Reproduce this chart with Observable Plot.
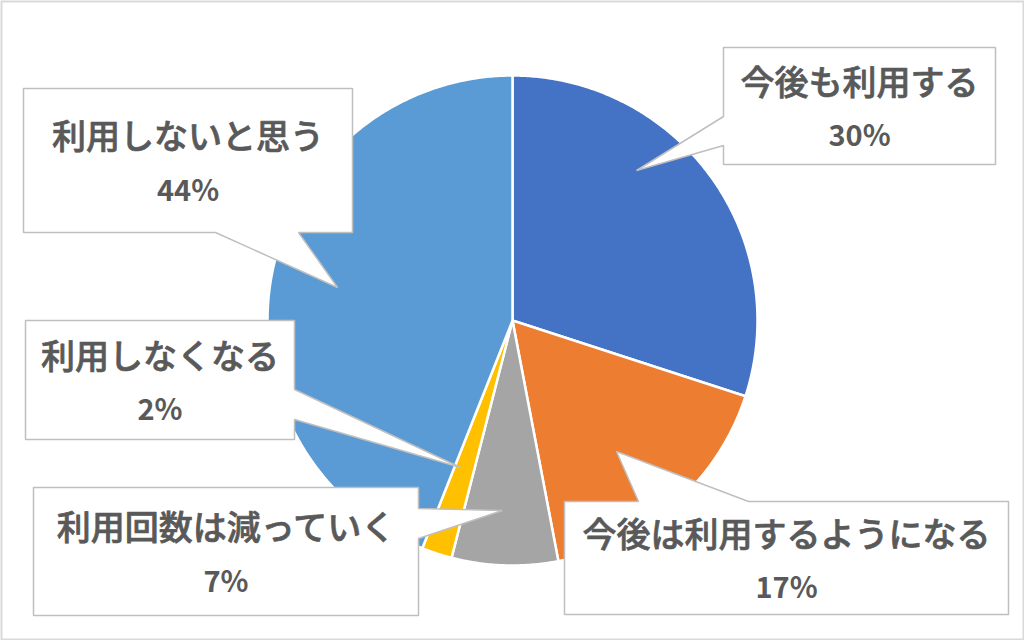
<!DOCTYPE html>
<html>
<head>
<meta charset="utf-8">
<script src="https://cdn.jsdelivr.net/npm/d3@7"></script>
<script src="https://cdn.jsdelivr.net/npm/@observablehq/plot@0.6"></script>
<style>
  html, body { margin: 0; padding: 0; background: #fff; }
  #chart svg { display: block; }
</style>
</head>
<body>
<div id="chart"></div>
<script>
// ---- data ----
const categories = ["今後も利用する", "今後は利用するようになる", "利用回数は減っていく", "利用しなくなる", "利用しないと思う"];
const values = [30, 17, 7, 2, 44];
const colors = ["#4472C4", "#ED7D31", "#A5A5A5", "#FFC000", "#5B9BD5"];

// ---- layout (callout boxes and pointer tips, in pixels) ----
const calloutLayout = [
  { box: [723, 47, 995, 164], side: "left",   span: [116, 145], tip: [636, 170] },
  { box: [564, 501, 1008, 614], side: "top",  span: [638, 748], tip: [616, 451] },
  { box: [33, 487, 418, 615], side: "right",  span: [508, 538], tip: [502, 510] },
  { box: [25, 320, 294, 439], side: "right",  span: [389, 419], tip: [460, 467] },
  { box: [23, 88, 352, 232], side: "bottom",  span: [215, 298], tip: [337, 287] }
];
const W = 1024, H = 640;
const cx = 512, cy = 320, R = 245;
const font = "'Noto Sans CJK JP', 'Noto Sans', sans-serif";

// ---- pie slices from values ----
const arcs = d3.pie().sort(null).value(d => d)(values);
const slicePts = [];
arcs.forEach((a, i) => {
  const key = categories[i];
  slicePts.push({ key, x: cx, y: cy });
  const n = Math.max(2, Math.ceil((a.endAngle - a.startAngle) / (Math.PI / 360)));
  for (let k = 0; k <= n; k++) {
    const t = a.startAngle + (a.endAngle - a.startAngle) * k / n;
    slicePts.push({ key, x: cx + R * Math.sin(t), y: cy - R * Math.cos(t) });
  }
  slicePts.push({ key, x: cx, y: cy });
});

// ---- callout shapes ----
const calloutPts = [];
const textRows = [];
calloutLayout.forEach((c, i) => {
  const key = categories[i];
  const [x0, y0, x1, y1] = c.box;
  const [a, b] = c.span;
  const [tx, ty] = c.tip;
  let pts;
  if (c.side === "left") {
    pts = [[x0, y0], [x1, y0], [x1, y1], [x0, y1], [x0, b], [tx, ty], [x0, a], [x0, y0]];
  } else if (c.side === "right") {
    pts = [[x0, y0], [x1, y0], [x1, a], [tx, ty], [x1, b], [x1, y1], [x0, y1], [x0, y0]];
  } else if (c.side === "top") {
    pts = [[x0, y0], [a, y0], [tx, ty], [b, y0], [x1, y0], [x1, y1], [x0, y1], [x0, y0]];
  } else {
    pts = [[x0, y0], [x1, y0], [x1, y1], [b, y1], [tx, ty], [a, y1], [x0, y1], [x0, y0]];
  }
  pts.forEach(([x, y]) => calloutPts.push({ key, x, y }));
  const mx = (x0 + x1) / 2, my = (y0 + y1) / 2;
  textRows.push({ kind: "label", x: mx, y: my - 22, text: key });
  textRows.push({ kind: "pct", x: mx, y: my + 31, text: values[i] + "%" });
});

const chart = Plot.plot({
  width: W,
  height: H,
  margin: 0,
  x: { domain: [0, W], range: [0, W], axis: null },
  y: { domain: [0, H], range: [0, H], axis: null },
  color: { domain: categories, range: colors },
  style: { background: "#fff" },
  marks: [
    Plot.line(slicePts, {
      x: "x", y: "y", z: "key", fill: "key",
      stroke: "white", strokeWidth: 2.5, strokeLinejoin: "round", curve: "linear"
    }),
    Plot.line(calloutPts, {
      x: "x", y: "y", z: "key", fill: "white",
      stroke: "#bfbfbf", strokeWidth: 1.5, strokeLinejoin: "miter", curve: "linear"
    }),
    Plot.text(textRows.filter(d => d.kind === "label"), {
      x: "x", y: "y", text: "text",
      fontSize: 34, fontFamily: font, fontWeight: 500, fill: "#595959",
      stroke: "#595959", strokeWidth: 0.7, paintOrder: "normal",
      letterSpacing: 1.5, textAnchor: "middle", lineAnchor: "middle"
    }),
    Plot.text(textRows.filter(d => d.kind === "pct"), {
      x: "x", y: "y", text: "text",
      fontSize: 29, fontFamily: font, fontWeight: "bold", fill: "#595959",
      textAnchor: "middle", lineAnchor: "middle"
    }),
    Plot.frame({ stroke: "#d9d9d9", strokeWidth: 2, inset: 1 })
  ]
});
document.getElementById("chart").appendChild(chart);
</script>
</body>
</html>
